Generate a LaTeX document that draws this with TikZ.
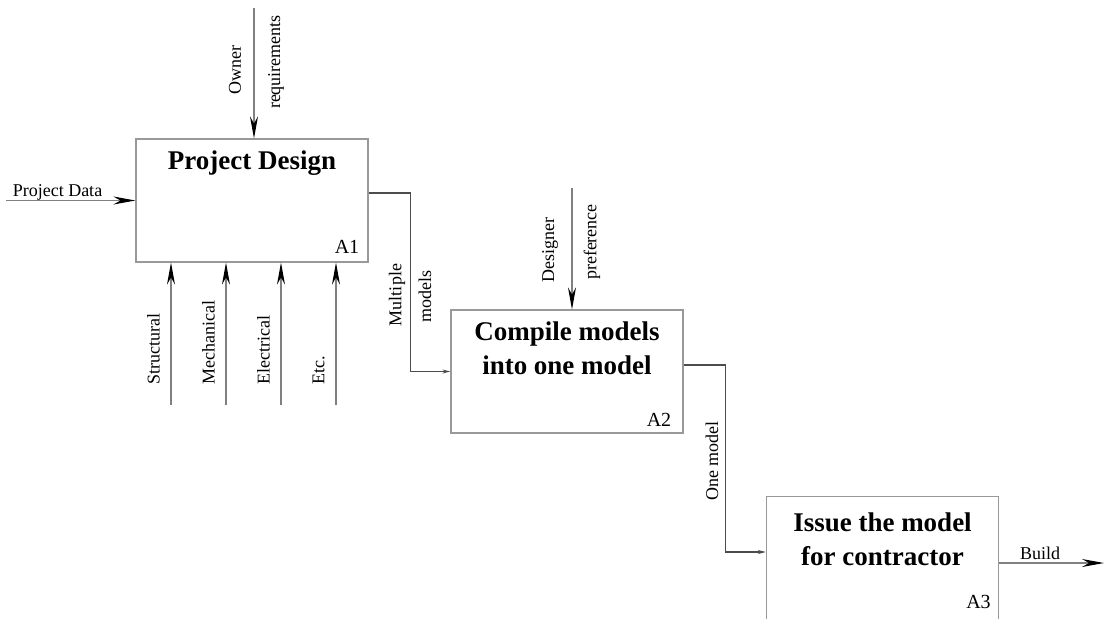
\documentclass[tikz,border=0pt]{standalone}
\usepackage{fontspec}
\setmainfont{Liberation Serif}
\usetikzlibrary{arrows.meta,positioning}

\begin{document}
\begin{tikzpicture}[
        x=0.5pt, y=-0.5pt,
        every node/.style={font=\fontsize{9}{10}\selectfont, inner sep=1pt},
        caixa/.style={draw=black!40, line width=0.6pt, minimum width=116pt, minimum height=61.5pt, inner sep=0pt},
        titulo/.style={font=\fontsize{13.5}{17}\selectfont\bfseries, align=center, anchor=north, yshift=-5pt},
        codigo/.style={font=\fontsize{10}{12}\selectfont, anchor=south east},
        entrada/.style={-{Stealth[length=11pt, width=4pt, color=black]}, black!50, line width=0.6pt},
        fluxo/.style={-{Stealth[length=4pt, width=2pt]}, black!70, line width=0.6pt},
        rotulo/.style={rotate=90}
    ]
        \useasboundingbox (0,0) rectangle (1104,618);

        % Caixa A1 - projeto
        \node[caixa] (a1) at (252,200.5) {};
        \node[titulo] (t1) at (a1.north) {Project Design};
        \node[codigo] (c1) at ([xshift=-3.5pt, yshift=3.5pt]a1.south east) {A1};

        % Caixa A2 - compilar
        \node[caixa] (a2) at (567,371.5) {};
        \node[titulo] (t2) at (a2.north) {Compile models\\into one model};
        \node[codigo] (c2) at ([xshift=-5pt, yshift=2.5pt]a2.south east) {A2};

        % Caixa A3 - emitir
        \node[caixa] (a3) at (882.5,558) {};
        \node[titulo, yshift=-2pt] (t3) at (a3.north) {Issue the model\\for contractor};
        \node[codigo] (c3) at ([xshift=-3pt, yshift=4.5pt]a3.south east) {A3};

        % Entradas de A1
        \coordinate (dados) at (6,200.5);
        \draw[entrada] (dados) -- (a1.west);
        \node (ldados) at (57.5,192) {Project Data};

        \coordinate (dono) at (254,8);
        \draw[entrada] (dono) -- (dono |- a1.north);
        \node[rotulo] (ldono1) at (235,70) {Owner};
        \node[rotulo] (ldono2) at (276,62) {requirements};

        \foreach \nome/\x [count=\i] in {Structural/171, Mechanical/226, Electrical/281, Etc./336} {
            \coordinate (base\i) at (\x,405);
            \draw[entrada] (base\i) -- (base\i |- a1.south);
            \node[rotulo, anchor=west] (lbase\i) at (\x-17.5,387) {\nome};
        }

        % A1 -> A2
        \draw[fluxo] ([yshift=3.75pt]a1.east) -- ++(42,0) |- (a2.west);
        \node[rotulo] (lmult1) at (397,295) {Multiple};
        \node[rotulo] (lmult2) at (425,296) {models};

        \coordinate (pref) at (572,188);
        \draw[entrada] (pref) -- (pref |- a2.north);
        \node[rotulo] (lpref1) at (550,250) {Designer};
        \node[rotulo] (lpref2) at (592,242) {preference};

        % A2 -> A3
        \draw[fluxo] ([yshift=3.25pt]a2.east) -- ++(42,0) |- ([yshift=3pt]a3.west);
        \node[rotulo] (lum) at (712,461) {One model};

        % Saida de A3
        \coordinate (fim) at (1104,563);
        \draw[entrada] ([yshift=-2.5pt]a3.east) -- (fim);
        \node[anchor=south] (lfim) at (1040,562) {Build};

    \end{tikzpicture}
\end{document}
